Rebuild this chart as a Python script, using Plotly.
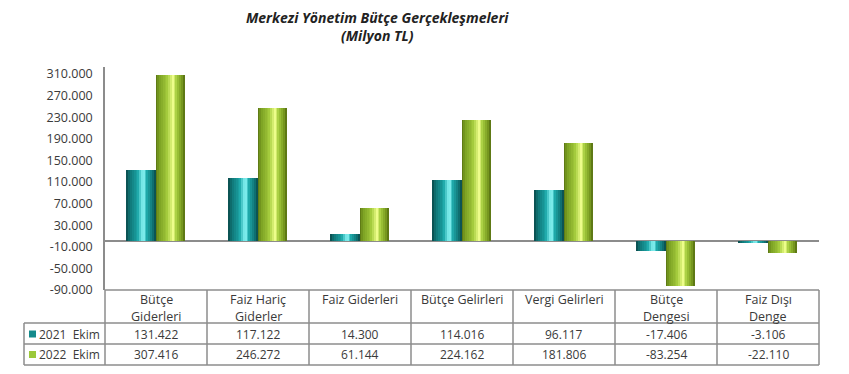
import plotly.graph_objects as go

# ---------------- data ----------------
categories = ["Bütçe<br>Giderleri", "Faiz Hariç<br>Giderler", "Faiz Giderleri",
              "Bütçe Gelirleri", "Vergi Gelirleri", "Bütçe<br>Dengesi", "Faiz Dışı<br>Denge"]
series_names = ["2021  Ekim", "2022  Ekim"]
values_2021 = [131422, 117122, 14300, 114016, 96117, -17406, -3106]
values_2022 = [307416, 246272, 61144, 224162, 181806, -83254, -22110]
tick_values = [-90000, -50000, -10000, 30000, 70000, 110000, 150000, 190000, 230000, 270000, 310000]
title_lines = ["Merkezi Yönetim Bütçe Gerçekleşmeleri", "(Milyon TL)"]

# ---------------- styling ----------------
OFF = 8  # page body margin
W, H = 849 - OFF, 374 - OFF
L, R, T, B = 105 - OFF, 819 - OFF, 67 - OFF, 290 - OFF
FONT = "Open Sans"
TXT = "#3a3a3a"
LINE = "#8c8c8c"

def xp(px):  # px in page coordinates
    return (px - OFF - L) / (R - L)

def yp(py):
    return (B - (py - OFF)) / (B - T)

def fmt(v):
    return f"{v:,}".replace(",", ".")

def hex2rgb(h):
    h = h.lstrip("#")
    return tuple(int(h[i:i + 2], 16) for i in (0, 2, 4))

def grad(stops, t):
    for (t0, c0), (t1, c1) in zip(stops, stops[1:]):
        if t0 <= t <= t1:
            f = (t - t0) / (t1 - t0) if t1 > t0 else 0
            a, b = hex2rgb(c0), hex2rgb(c1)
            return "rgb(%d,%d,%d)" % tuple(round(a[i] + (b[i] - a[i]) * f) for i in range(3))
    return stops[-1][1]

teal_stops = [(0, "#0a4747"), (0.12, "#0f7677"), (0.4, "#1da8a9"), (0.57, "#8ef8f8"),
              (0.7, "#20adae"), (0.9, "#0f7273"), (1, "#0a4646")]
green_stops = [(0, "#556e10"), (0.12, "#7a9f22"), (0.42, "#a6cd3e"), (0.6, "#f0ff8e"),
               (0.73, "#a6cd3e"), (0.9, "#789a20"), (1, "#526a10")]
legend_colors = ["#148a8b", "#9cc93a"]

fig = go.Figure()
bw = 0.285
N = 16
xs = list(range(len(categories)))
for s, (vals, stops) in enumerate([(values_2021, teal_stops), (values_2022, green_stops)]):
    for j in range(N):
        t = (j + 0.5) / N
        fig.add_trace(go.Bar(
            x=xs, y=vals,
            width=bw / N * 1.08,
            offset=-bw + s * bw + j * bw / N,
            marker=dict(color=grad(stops, t), line=dict(width=0)),
            showlegend=False, hoverinfo="skip",
        ))

shapes = []
def hline(y, x0, x1):
    shapes.append(dict(type="line", xref="paper", yref="paper", x0=xp(x0), x1=xp(x1),
                       y0=yp(y), y1=yp(y), line=dict(color=LINE, width=1.5)))
def vline(x, y0, y1):
    shapes.append(dict(type="line", xref="paper", yref="paper", x0=xp(x), x1=xp(x),
                       y0=yp(y0), y1=yp(y1), line=dict(color=LINE, width=1.5)))

# table geometry (page pixel coordinates)
TL, TR = 105, 819
ROW0, ROW1, ROW2, ROW3 = 290, 323, 344, 365
LEFT = 24
hline(ROW0, TL, TR)
for y in (ROW1, ROW2, ROW3):
    hline(y, LEFT, TR)
vline(LEFT, ROW1, ROW3)
colw = (TR - TL) / len(categories)
for k in range(len(categories) + 1):
    vline(TL + k * colw, ROW0, ROW3)

annotations = []
# title (one text block, two lines)
annotations.append(dict(text="<b><i>" + "<br>".join(title_lines) + "</i></b>", xref="paper", yref="paper",
                        x=xp(377.5), y=yp(26.5), xanchor="center", yanchor="middle", align="center",
                        showarrow=False, font=dict(family=FONT, size=14, color="#222222")))
# header (each line placed separately)
for i, c in enumerate(categories):
    for k, part in enumerate(c.split("<br>")):
        annotations.append(dict(text=part, xref="paper", yref="paper", x=xp(TL + (i + 0.5) * colw),
                                y=yp(299.5 + k * 16.5), xanchor="center", yanchor="middle",
                                showarrow=False, font=dict(family=FONT, size=12.5, color=TXT)))
# values + legend
for r, (name, vals, col) in enumerate(zip(series_names, [values_2021, values_2022], legend_colors)):
    ymid = (ROW1 + ROW2) / 2 + 0.5 if r == 0 else (ROW2 + ROW3) / 2
    for i, v in enumerate(vals):
        annotations.append(dict(text=fmt(v), xref="paper", yref="paper", x=xp(TL + (i + 0.5) * colw),
                                y=yp(ymid), xanchor="center", yanchor="middle", showarrow=False,
                                font=dict(family=FONT, size=12, color=TXT)))
    shapes.append(dict(type="rect", xref="paper", yref="paper", x0=xp(29), x1=xp(36),
                       y0=yp(ymid - 3.5), y1=yp(ymid + 3.5), fillcolor=col, line=dict(width=0)))
    annotations.append(dict(text=name.replace("  ", "&nbsp;&nbsp;"), xref="paper", yref="paper",
                            x=xp(37), y=yp(ymid), xanchor="left", yanchor="middle", showarrow=False,
                            font=dict(family=FONT, size=12, color=TXT)))

fig.update_layout(
    width=W, height=H,
    margin=dict(l=L, r=W - R, t=T, b=H - B),
    paper_bgcolor="white", plot_bgcolor="white",
    barmode="overlay", bargap=0,
    showlegend=False,
    xaxis=dict(range=[-0.5, len(categories) - 0.5], visible=False, fixedrange=True),
    yaxis=dict(range=[-90000, 323000], tickvals=tick_values,
               ticktext=[fmt(v) for v in tick_values],
               tickfont=dict(family=FONT, size=12.5, color=TXT),
               showgrid=False, showline=True, linecolor=LINE, linewidth=1.5,
               zeroline=True, zerolinecolor=LINE, zerolinewidth=1.5,
               ticks="", ticklabelstandoff=8, fixedrange=True),
    shapes=shapes, annotations=annotations,
)

fig.write_html("out.html")
